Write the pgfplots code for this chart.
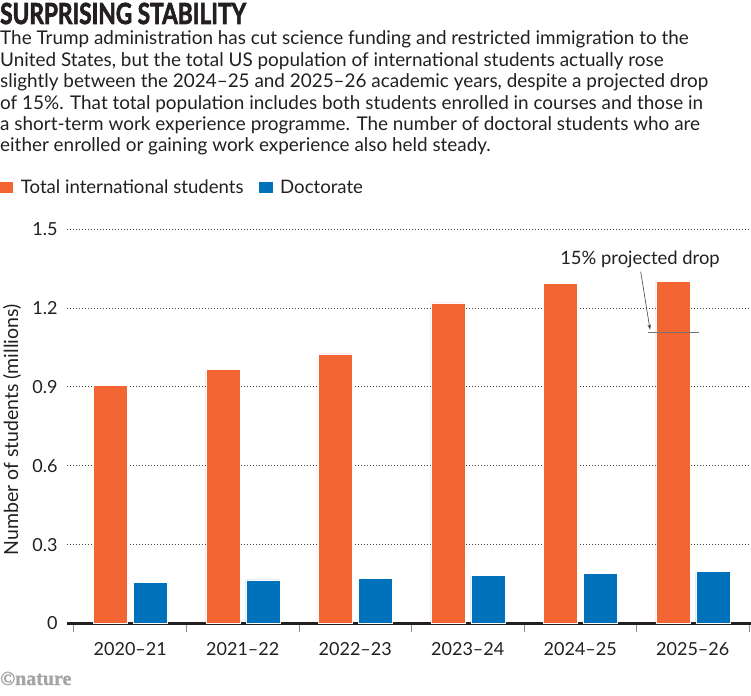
\documentclass[border=0pt]{standalone}
\usepackage{pgfplots}
\pgfplotsset{compat=1.18}
\usepackage{fontspec}
\usetikzlibrary{arrows.meta}
\setmainfont{Lato}
\newfontfamily\titlefont{Lato}[FakeBold=2.6]
\newfontfamily\logofont{Liberation Serif}[FakeBold=1.2]
\definecolor{natorange}{RGB}{242,101,51}
\definecolor{natblue}{RGB}{0,114,188}
\definecolor{ink}{RGB}{35,31,32}
\definecolor{logogrey}{RGB}{165,165,165}

\begin{document}
\begin{tikzpicture}[x=1pt,y=1pt]
\useasboundingbox (0,0) rectangle (751,-695);

% title and standfirst
\node[anchor=base west, inner sep=0, text=ink] at (0,-24)
  {\scalebox{0.78}[1]{\titlefont\bfseries\fontsize{29}{29}\selectfont SURPRISING STABILITY}};
\begin{scope}[every node/.style={anchor=base west, inner sep=0, text=ink, font=\fontsize{18.9}{21}\selectfont}]
\node at (0,-45)    {The Trump administration has cut science funding and restricted immigration to the};
\node at (0,-66.5)  {United States, but the total US population of international students actually rose};
\node at (0,-88)    {slightly between the 2024–25 and 2025–26 academic years, despite a projected drop};
\node at (0,-109.3) {of 15\%. That total population includes both students enrolled in courses and those in};
\node at (0,-130.6) {a short-term work experience programme. The number of doctoral students who are};
\node at (0,-152)   {either enrolled or gaining work experience also held steady.};
\end{scope}

% legend
\fill[natorange] (0,-181.7) rectangle (12.7,-193.3);
\node[anchor=base west, inner sep=0, text=ink, font=\fontsize{18.6}{21}\selectfont] at (20.7,-193) {Total international students};
\fill[natblue] (259,-181.7) rectangle (273,-193.3);
\node[anchor=base west, inner sep=0, text=ink, font=\fontsize{18.6}{21}\selectfont] at (280,-193) {Doctorate};

\begin{axis}[
  at={(67pt,-623.5pt)}, anchor=south west,
  scale only axis, width=684pt, height=394.5pt,
  xmin=-0.5622, xmax=5.5178, ymin=0, ymax=1.5,
  ybar=6pt, bar width=34pt,
  axis x line*=bottom, axis y line*=left,
  x axis line style={line width=2.6pt, ink, -},
  y axis line style={draw=none},
  ytick={0,0.3,0.6,0.9,1.2,1.5},
  yticklabels={0,0.3,0.6,0.9,1.2,1.5},
  ymajorgrids,
  major grid style={ink!85, line width=0.8pt, dash pattern=on 0.8pt off 2.2pt},
  xtick={0,1,2,3,4,5},
  xticklabels={2020–21,2021–22,2022–23,2023–24,2024–25,2025–26},
  minor xtick={-0.5,0.5,1.5,2.5,3.5,4.5,5.5},
  major tick length=0pt, minor tick length=8pt, tick align=outside,
  minor tick style={black!45, line width=1pt},
  ticklabel style={text=ink, font=\fontsize{18}{20}\selectfont},
  yticklabel style={anchor=east, xshift=-6pt},
  xticklabel style={anchor=base, yshift=-31.5pt},
  clip=false,
]
\addplot[fill=natorange, draw=white, line width=0.5pt]
  coordinates {(0,0.906) (1,0.965) (2,1.025) (3,1.219) (4,1.294) (5,1.300)};
\addplot[fill=natblue, draw=white, line width=0.5pt]
  coordinates {(0,0.155) (1,0.166) (2,0.172) (3,0.183) (4,0.191) (5,0.197)};
% projected level: 15% below 2024-25
\addplot[sharp plot, no marks, draw=black!55, line width=1.2pt, forget plot]
  coordinates {(4.602,1.105) (5.056,1.105)};
\end{axis}

% annotation
\node[anchor=base, inner sep=0, text=ink, font=\fontsize{18.4}{21}\selectfont] at (640,-264.5) {15\% projected drop};
\draw[-{Stealth[length=5pt,width=3.5pt]}, ink!85, line width=0.6pt] (640.7,-271.7) -- (650,-329.5);

% y label
\node[rotate=90, anchor=center, inner sep=0, text=ink, font=\fontsize{19.5}{21}\selectfont] at (12,-430) {Number of students (millions)};

% logo
\node[anchor=base west, inner sep=0, text=logogrey] at (0,-685)
  {\logofont\bfseries\fontsize{20}{20}\selectfont ©nature};
\end{tikzpicture}
\end{document}
